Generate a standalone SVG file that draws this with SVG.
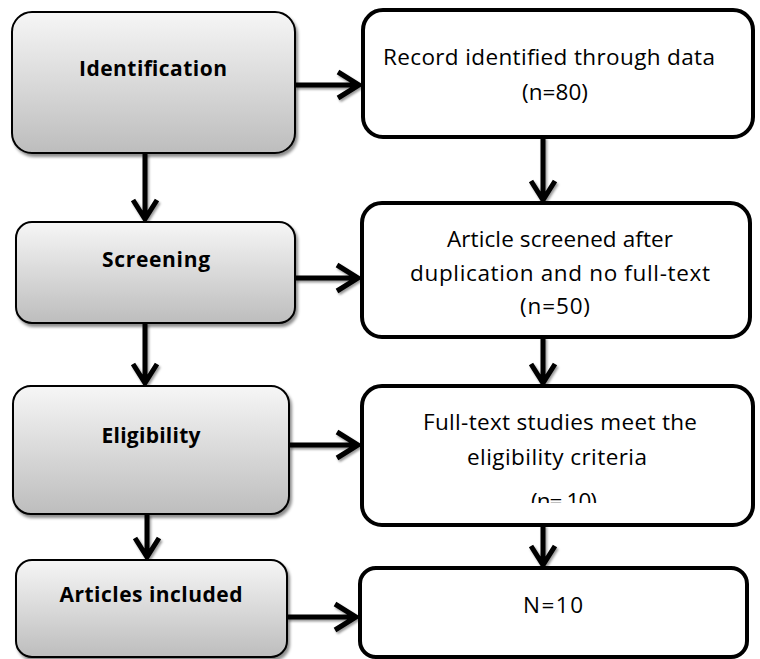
<svg xmlns="http://www.w3.org/2000/svg" width="760" height="659" viewBox="0 0 760 659">
<defs>
<linearGradient id="g" x1="0" y1="0" x2="0" y2="1">
<stop offset="0" stop-color="#f6f6f6"/>
<stop offset="1" stop-color="#bdbdbd"/>
</linearGradient>
<filter id="sh" x="-10%" y="-10%" width="130%" height="140%">
<feDropShadow dx="2" dy="3" stdDeviation="1.5" flood-color="#000" flood-opacity="0.45"/>
</filter>
<filter id="ash" x="-20%" y="-20%" width="150%" height="150%">
<feDropShadow dx="1.5" dy="2" stdDeviation="1.2" flood-color="#000" flood-opacity="0.4"/>
</filter>
<clipPath id="c3"><rect x="362" y="386" width="391" height="117"/></clipPath>
</defs>
<style>
.step{fill:url(#g);stroke:#000;stroke-width:2;filter:url(#sh)}
.box{fill:#fff;stroke:#000;stroke-width:4}
.lbl{font-family:"Open Sans","Liberation Sans",sans-serif;font-weight:bold;font-size:21px;fill:#000;text-anchor:middle}
.txt{font-family:"Open Sans","Liberation Sans",sans-serif;font-size:22.5px;fill:#000;text-anchor:middle}
.arr{fill:none;stroke:#000;stroke-width:5;stroke-linejoin:miter;filter:url(#ash)}
</style>
<rect width="760" height="659" fill="#fff"/>
<g id="connectors">
<path class="arr" d="M295 85 L359 85 M338 72 L359 85 L338 98"/>
<path class="arr" d="M145 153 L145 219 M133 200 L145 219 L157 200"/>
<path class="arr" d="M543 137 L543 200 M531 181 L543 200 L555 181"/>
<path class="arr" d="M295 278 L358 278 M337 265 L358 278 L337 291"/>
<path class="arr" d="M145 323 L145 383 M133 364 L145 383 L157 364"/>
<path class="arr" d="M543 337 L543 383 M531 364 L543 383 L555 364"/>
<path class="arr" d="M289 445 L358 445 M337 432 L358 445 L337 458"/>
<path class="arr" d="M147 514 L147 557 M135 538 L147 557 L159 538"/>
<path class="arr" d="M543 525 L543 565 M531 546 L543 565 L555 546"/>
<path class="arr" d="M287 617 L356 617 M335 604 L356 617 L335 630"/>
</g>
<g id="identification">
<rect class="step" x="12" y="12" width="283" height="141" rx="20"/>
<text class="lbl" x="153" y="76" textLength="148">Identification</text>
</g>
<g id="screening">
<rect class="step" x="16" y="222" width="279" height="101" rx="16"/>
<text class="lbl" x="156" y="267" textLength="108">Screening</text>
</g>
<g id="eligibility">
<rect class="step" x="13" y="386" width="276" height="128" rx="18"/>
<text class="lbl" x="151" y="443" textLength="99">Eligibility</text>
</g>
<g id="included">
<rect class="step" x="16" y="560" width="271" height="97" rx="16"/>
<text class="lbl" x="151" y="602" textLength="183">Articles included</text>
</g>
<g id="records">
<rect class="box" x="363" y="10" width="390" height="127" rx="20"/>
<text class="txt" x="549" y="65" textLength="332">Record identified through data</text>
<text class="txt" x="555" y="100" textLength="66">(n=80)</text>
</g>
<g id="screened">
<rect class="box" x="362" y="203" width="388" height="134" rx="20"/>
<text class="txt" x="560" y="247" textLength="226">Article screened after</text>
<text class="txt" x="560" y="281" textLength="300">duplication and no full-text</text>
<text class="txt" x="555" y="314" textLength="70">(n=50)</text>
</g>
<g id="fulltext">
<rect class="box" x="362" y="386" width="391" height="139" rx="20"/>
<text class="txt" x="560" y="430" textLength="274">Full-text studies meet the</text>
<text class="txt" x="557" y="465" textLength="180">eligibility criteria</text>
<text class="txt" x="564" y="509" textLength="66" clip-path="url(#c3)">(n= 10)</text>
</g>
<g id="final">
<rect class="box" x="360" y="568" width="387" height="89" rx="16"/>
<text class="txt" x="553" y="613" textLength="60">N=10</text>
</g>
</svg>
